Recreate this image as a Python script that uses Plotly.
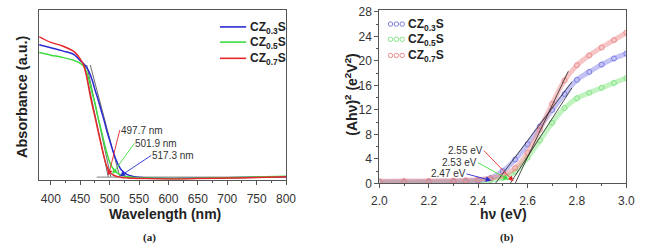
import plotly.graph_objects as go

W, H = 647, 252

# ---------------- Panel (a): UV-vis absorbance ----------------
wavelength = [380, 400, 420, 440, 450, 455, 460, 465, 470, 475, 480, 485, 490, 495,
              500, 505, 510, 515, 520, 530, 540, 560, 600, 650, 700, 750, 800]
abs_cz03 = [0.794, 0.776, 0.758, 0.735, 0.700, 0.685, 0.665, 0.635, 0.590, 0.530, 0.475, 0.415,
            0.355, 0.290, 0.232, 0.175, 0.125, 0.085, 0.058, 0.030, 0.020, 0.012, 0.008, 0.009,
            0.012, 0.015, 0.018]
abs_cz05 = [0.748, 0.733, 0.720, 0.701, 0.685, 0.672, 0.640, 0.585, 0.515, 0.450, 0.370, 0.300,
            0.228, 0.160, 0.105, 0.070, 0.047, 0.035, 0.027, 0.018, 0.014, 0.010, 0.008, 0.009,
            0.012, 0.016, 0.020]
abs_cz07 = [0.841, 0.808, 0.787, 0.752, 0.710, 0.680, 0.620, 0.530, 0.445, 0.370, 0.290, 0.215,
            0.140, 0.080, 0.045, 0.030, 0.022, 0.017, 0.014, 0.011, 0.009, 0.007, 0.005, 0.007,
            0.010, 0.013, 0.017]
# tangent (edge) lines: [top wavelength, edge wavelength]
tan_a_x = {"CZ0.3S": [467, 517.3], "CZ0.5S": [461, 501.9], "CZ0.7S": [457, 497.7]}
tan_a_top = 0.675
tan_a_base = 0.016
baseline_a_x = [478, 800]
edge_labels = ["517.3 nm", "501.9 nm", "497.7 nm"]
wl_ticks = [400, 450, 500, 550, 600, 650, 700, 750, 800]

# ---------------- Panel (b): Tauc plot ----------------
hv = [2.0, 2.1, 2.2, 2.3, 2.35, 2.4, 2.45, 2.5, 2.55, 2.6, 2.65, 2.7, 2.75, 2.8,
      2.85, 2.9, 2.95, 3.0]
tauc_cz03 = [0.25, 0.25, 0.28, 0.32, 0.38, 0.50, 0.85, 2.0, 3.9, 6.4, 9.3, 12.0, 14.6, 16.9,
             18.2, 19.4, 20.4, 21.2]
tauc_cz05 = [0.15, 0.16, 0.18, 0.22, 0.27, 0.35, 0.55, 0.9, 1.9, 4.2, 7.0, 9.9, 12.3, 13.9,
             14.8, 15.6, 16.4, 17.2]
tauc_cz07 = [0.35, 0.37, 0.40, 0.45, 0.50, 0.60, 0.85, 1.3, 2.5, 5.0, 8.8, 13.0, 16.8, 19.3,
             20.9, 22.2, 23.4, 24.6]
tan_b_x = {"CZ0.3S": [2.47, 2.78], "CZ0.5S": [2.53, 2.78], "CZ0.7S": [2.55, 2.765]}
tan_b_y = {"CZ0.3S": [0, 16.6], "CZ0.5S": [0, 15.6], "CZ0.7S": [0, 18.3]}
gap_labels = ["2.47 eV", "2.53 eV", "2.55 eV"]
hv_ticks = [2.0, 2.2, 2.4, 2.6, 2.8, 3.0]
tauc_ticks = [0, 4, 8, 12, 16, 20, 24, 28]

names = ["CZ0.3S", "CZ0.5S", "CZ0.7S"]
legend_html = ["CZ<sub>0.3</sub>S", "CZ<sub>0.5</sub>S", "CZ<sub>0.7</sub>S"]
line_col = {"CZ0.3S": "#2b2bd2", "CZ0.5S": "#3fdc3f", "CZ0.7S": "#e6262a"}
band_col = {"CZ0.3S": "rgba(120,120,232,0.45)", "CZ0.5S": "rgba(130,232,130,0.5)",
            "CZ0.7S": "rgba(238,140,140,0.5)"}
mark_col = {"CZ0.3S": "#7c7ce6", "CZ0.5S": "#86e486", "CZ0.7S": "#ee8c8c"}

FONT = "Liberation Sans, Arial, sans-serif"
AXC = "#555555"
TXT = "#333333"


def pxx(x):
    return x / W


def pxy(y):
    return 1 - y / H


fig = go.Figure()

abs_series = {"CZ0.3S": abs_cz03, "CZ0.5S": abs_cz05, "CZ0.7S": abs_cz07}
tauc_series = {"CZ0.3S": tauc_cz03, "CZ0.5S": tauc_cz05, "CZ0.7S": tauc_cz07}

# panel (a) tangents and baseline (drawn under curves)
for n in names:
    fig.add_trace(go.Scatter(x=tan_a_x[n], y=[tan_a_top, tan_a_base], mode="lines",
                             line=dict(color="#444444", width=0.8), showlegend=False,
                             xaxis="x", yaxis="y", hoverinfo="skip"))
fig.add_trace(go.Scatter(x=baseline_a_x, y=[tan_a_base, tan_a_base], mode="lines",
                         line=dict(color="#999999", width=1.3), showlegend=False,
                         xaxis="x", yaxis="y", hoverinfo="skip"))
for n in names:
    fig.add_trace(go.Scatter(x=wavelength, y=abs_series[n], mode="lines", name=n,
                             line=dict(color=line_col[n], width=1.5, shape="spline"),
                             showlegend=False, xaxis="x", yaxis="y"))

# panel (b)
for n in ["CZ0.5S", "CZ0.3S", "CZ0.7S"]:
    fig.add_trace(go.Scatter(x=hv, y=tauc_series[n], mode="lines+markers", name=n,
                             line=dict(color=band_col[n], width=5, shape="spline"),
                             marker=dict(symbol="circle-open", size=5, color=mark_col[n],
                                         line=dict(width=1)),
                             showlegend=False, xaxis="x2", yaxis="y2"))
for n in names:
    fig.add_trace(go.Scatter(x=tan_b_x[n], y=tan_b_y[n], mode="lines",
                             line=dict(color="#222222", width=0.8), showlegend=False,
                             xaxis="x2", yaxis="y2", hoverinfo="skip"))

axis_common = dict(showline=True, linecolor=AXC, linewidth=1, mirror=True, showgrid=False,
                   zeroline=False, ticks="outside", ticklen=4, tickcolor=AXC,
                   ticklabeloverflow="allow",
                   tickfont=dict(family=FONT, size=12, color=TXT))

fig.update_layout(
    width=W, height=H, margin=dict(l=0, r=0, t=0, b=0),
    paper_bgcolor="white", plot_bgcolor="white", showlegend=False,
    xaxis=dict(domain=[pxx(32), pxx(286)], range=[380, 800], tickmode="array",
               tickvals=wl_ticks, ticktext=[str(v) for v in wl_ticks],
               minor=dict(tickmode="linear", tick0=375, dtick=25, ticks="outside",
                          ticklen=2, tickcolor=AXC),
               ticklabelstandoff=4, anchor="y", **axis_common),
    yaxis=dict(domain=[pxy(183.5), pxy(5)], range=[0, 1], showline=True, linecolor=AXC,
               mirror=True, showgrid=False, zeroline=False, showticklabels=False,
               ticks="", anchor="x"),
    xaxis2=dict(domain=[pxx(382), pxx(636)], range=[2.0, 3.0], tickmode="array",
                tickvals=hv_ticks, ticktext=[f"{v:.1f}" for v in hv_ticks],
                minor=dict(tickmode="linear", tick0=2.0, dtick=0.1, ticks="outside",
                           ticklen=2, tickcolor=AXC),
                ticklabelstandoff=2, anchor="y2", **axis_common),
    yaxis2=dict(domain=[pxy(187.3), pxy(5.0)], range=[0, 28.35], tickmode="array",
                tickvals=tauc_ticks, ticktext=[str(v) for v in tauc_ticks],
                minor=dict(tickmode="linear", tick0=0, dtick=2, ticks="outside",
                           ticklen=2, tickcolor=AXC),
                anchor="x2", **axis_common),
)

ann = []
shapes = []


def paper_text(text, x, y, size, angle=0, family=FONT, xanchor="center"):
    return dict(text=text, x=pxx(x), y=pxy(y), xref="paper", yref="paper",
                xanchor=xanchor, yanchor="middle", showarrow=False, textangle=angle,
                font=dict(family=family, size=size, color="#222"))


# axis titles and panel labels
ann.append(paper_text("<b>Wavelength (nm)</b>", 162, 219, 14))
ann.append(paper_text("<b>Absorbance (a.u.)</b>", 15, 96, 14.5, angle=-90))
ann.append(paper_text("<b>hν (eV)</b>", 510, 219, 14))
ann.append(paper_text("<b>(Ahν)<sup>2</sup> (e<sup>2</sup>V<sup>2</sup>)</b>", 352, 94, 14,
                      angle=-90))
ann.append(paper_text("<b>(a)</b>", 146, 244, 11, family="Liberation Serif, serif"))
ann.append(paper_text("<b>(b)</b>", 513, 244, 11, family="Liberation Serif, serif"))

# custom legends
leg_y = [23, 39, 56]
for i, n in enumerate(names):
    shapes.append(dict(type="line", xref="paper", yref="paper", x0=pxx(218), x1=pxx(245),
                       y0=pxy(leg_y[i]), y1=pxy(leg_y[i]),
                       line=dict(color=line_col[n], width=1.6)))
    ann.append(paper_text("<b>" + legend_html[i] + "</b>", 247, leg_y[i] + 1, 12,
                          xanchor="left"))
legb_y = [20, 36, 53]
for i, n in enumerate(names):
    for cx in (393.5, 399.5, 405.5):
        shapes.append(dict(type="circle", xref="paper", yref="paper",
                           x0=pxx(cx - 2.3), x1=pxx(cx + 2.3),
                           y0=pxy(legb_y[i] + 2.3), y1=pxy(legb_y[i] - 2.3),
                           line=dict(color=mark_col[n], width=1)))
    ann.append(paper_text("<b>" + legend_html[i] + "</b>", 409, legb_y[i] + 1, 12,
                          xanchor="left"))

# panel (a) edge annotations: (label, color, text anchor x, y, arrow tip x, y)
a_ann = [
    (edge_labels[2], line_col["CZ0.7S"], 517.2, 0.292, 498.0, 0.025),
    (edge_labels[1], line_col["CZ0.5S"], 542.0, 0.214, 504.5, 0.034),
    (edge_labels[0], line_col["CZ0.3S"], 570.6, 0.143, 517.2, 0.020),
]
for lab, col, tx, ty, x_, y_ in a_ann:
    ann.append(dict(text=lab, x=x_, y=y_, ax=tx, ay=ty, xref="x", yref="y", axref="x",
                    ayref="y", xanchor="left", yanchor="middle", showarrow=True,
                    arrowhead=2, arrowsize=1.2, arrowwidth=0.9, arrowcolor=col,
                    standoff=0, borderpad=0,
                    font=dict(family=FONT, size=10, color=TXT)))

# panel (b) gap annotations
b_ann = [
    (gap_labels[2], line_col["CZ0.7S"], 2.4232, 5.35, 2.5433, 0.35),
    (gap_labels[1], line_col["CZ0.5S"], 2.3988, 3.40, 2.5236, 0.61),
    (gap_labels[0], line_col["CZ0.3S"], 2.3531, 1.55, 2.4528, 0.46),
]
for lab, col, tx, ty, x_, y_ in b_ann:
    ann.append(dict(text=lab, x=x_, y=y_, ax=tx, ay=ty, xref="x2", yref="y2", axref="x2",
                    ayref="y2", xanchor="right", yanchor="middle", showarrow=True,
                    arrowhead=2, arrowsize=1.2, arrowwidth=0.9, arrowcolor=col,
                    standoff=0, borderpad=0,
                    font=dict(family=FONT, size=10, color=TXT)))

fig.update_layout(annotations=ann, shapes=shapes)
fig.write_html("out.html",
               config={"displayModeBar": False, "staticPlot": True},
               post_script="document.body.style.margin='0';"
                           "document.body.style.overflow='hidden';")
